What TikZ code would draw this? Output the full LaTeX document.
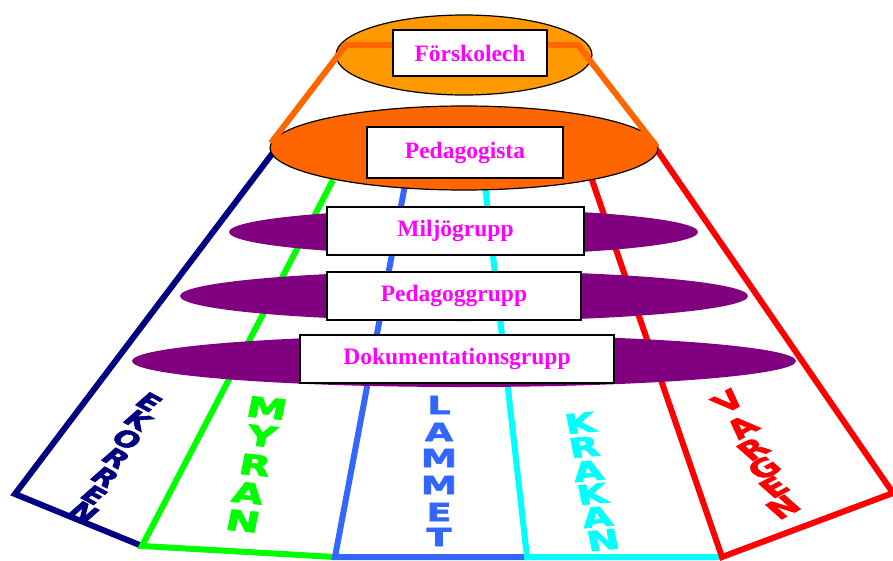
\documentclass[tikz,border=0pt]{standalone}
\usepackage{fontspec}
\usetikzlibrary{shapes.geometric}
\newfontfamily\boxfont{Liberation Serif}
\newfontfamily\lanefont{DejaVu Sans}[UprightFont={* Bold}, UprightFeatures={FakeBold=2.5}]
\definecolor{mag}{HTML}{FF00FF}
\definecolor{orlight}{HTML}{FF9900}
\definecolor{ordark}{HTML}{FF6600}
\definecolor{purp}{HTML}{800080}
\definecolor{navyc}{HTML}{000080}
\definecolor{greenc}{HTML}{00FF00}
\definecolor{bluec}{HTML}{3366FF}
\definecolor{cyanc}{HTML}{00FFFF}
\definecolor{redc}{HTML}{FF0000}
\tikzset{
  lane/.style={line width=6pt, line join=miter},
  conn/.style={line width=6pt, draw=ordark, line join=round},
  ell/.style={ellipse, inner sep=0pt, draw=black, line width=1.2pt},
  pell/.style={ellipse, inner sep=0pt, fill=purp},
  lbox/.style={rectangle, draw=black, line width=1.8pt, fill=white, inner sep=0pt,
     text=mag, font=\boxfont\bfseries\fontsize{23.5}{26}\selectfont},
  bigbox/.style={lbox},
  lett/.style={inner sep=0pt, font=\lanefont\fontsize{#1}{#1}\selectfont, xscale=1.45},
}
\begin{document}
\begin{tikzpicture}[x=1pt,y=-1pt]
\useasboundingbox (0,0) rectangle (893,560);
% lane coordinates
\coordinate (n0) at (275,150);
\coordinate (n1) at (15,494);
\coordinate (b1) at (142,546);
\coordinate (g0) at (333,180);
\coordinate (b2) at (335,557);
\coordinate (u0) at (405,185);
\coordinate (b3) at (527,557);
\coordinate (c0) at (485,185);
\coordinate (b4) at (722,557);
\coordinate (r0) at (592,180);
\coordinate (r1) at (893,493);
\coordinate (r2) at (657,150);
% lanes
\draw[lane, navyc] (n0) -- (n1) -- (b1);
\draw[lane, greenc] (g0) -- (b1) -- (b2);
\draw[lane, bluec] (u0) -- (b2) -- (b3);
\draw[lane, cyanc] (c0) -- (b3) -- (b4);
\draw[lane, redc] (r0) -- (b4) -- (r1) -- (r2);
% top ellipses
\node[ell, fill=ordark, minimum width=388pt, minimum height=84pt] (pedell) at (464,148) {};
\node[ell, fill=orlight, minimum width=256pt, minimum height=80pt] (topell) at (464,55) {};
% orange connectors
\coordinate (tl) at (346,45);
\coordinate (tr) at (578,45);
\coordinate (pl) at (271,143);
\coordinate (pr) at (657,147);
\node[bigbox, minimum width=154pt, minimum height=46pt] (fbox) at (470,53) {Förskolech};
\draw[conn] (pl) -- (tl) -- (tl -| fbox.west);
\draw[conn] (pr) -- (tr) -- (tr -| fbox.east);
\node[bigbox, minimum width=154pt, minimum height=46pt] (fbox2) at (470,53) {Förskolech};
\node[bigbox, minimum width=196pt, minimum height=51pt] (pbox) at (465,152.5) {Pedagogista};
% purple ellipses and group boxes
\node[pell, minimum width=469pt, minimum height=46pt] (mell) at (463.5,232) {};
\node[lbox, minimum width=257pt, minimum height=48pt] (mbox) at (455.5,231) {Miljögrupp};
\node[pell, minimum width=568pt, minimum height=50pt] (gell) at (464,296) {};
\node[lbox, minimum width=254pt, minimum height=48pt] (gbox) at (454,296) {Pedagoggrupp};
\node[pell, minimum width=664pt, minimum height=52pt] (dell) at (464,361) {};
\node[lbox, minimum width=314pt, minimum height=48pt] (dbox) at (457,359) {Dokumentationsgrupp};
% EKORREN
\begin{scope}[every node/.style={lett=22, text=navyc, rotate=-38}]
\node (e1) at (149,402) {E};
\node (e2) at (138,420) {K};
\node (e3) at (127,439) {O};
\node (e4) at (116,458) {R};
\node (e5) at (105,477) {R};
\node (e6) at (94,495) {E};
\node (e7) at (84,512) {N};
\end{scope}
% MYRAN
\begin{scope}[every node/.style={lett=28, text=greenc, rotate=-8}]
\node (m1) at (267,408) {M};
\node (m2) at (262,436) {Y};
\node (m3) at (255,465) {R};
\node (m4) at (248,493) {A};
\node (m5) at (243,521) {N};
\end{scope}
% LAMMET
\begin{scope}[every node/.style={lett=25, text=bluec}]
\node (l1) at (439,405) {L};
\node (l2) at (439,432) {A};
\node (l3) at (439,458) {M};
\node (l4) at (439,485) {M};
\node (l5) at (439,512) {E};
\node (l6) at (439,537) {T};
\end{scope}
% KRAKAN
\begin{scope}[every node/.style={lett=27, text=cyanc, rotate=8}]
\node (k1) at (580,423) {K};
\node (k2) at (584,447) {R};
\node (k3) at (588,471) {A};
\node (k4) at (592,494) {K};
\node (k5) at (597,517) {A};
\node (k6) at (603,540) {N};
\end{scope}
% VARGEN
\begin{scope}[every node/.style={lett=25, text=redc, rotate=38}]
\node (v1) at (728,401) {V};
\node (v2) at (742,427) {A};
\node (v3) at (753,449) {R};
\node (v4) at (764,468) {G};
\node (v5) at (774,487) {E};
\node (v6) at (783,507) {N};
\end{scope}
\end{tikzpicture}
\end{document}
